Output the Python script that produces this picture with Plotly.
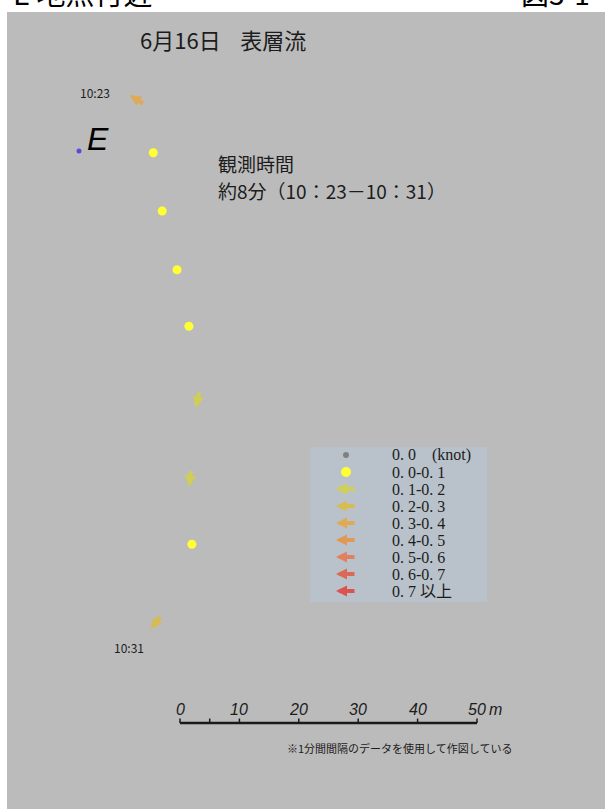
import math
import plotly.graph_objects as go

# ---- Drifter track, one fix per minute (metres east / north of scale-bar origin)
obs_time = ["10:23", "10:24", "10:25", "10:26", "10:27", "10:28", "10:29", "10:30", "10:31"]
east_m = [-7.2, -4.5, -3.0, -0.5, 1.5, 3.0, 1.7, 2.0, -4.0]
north_m = [104.9, 96.0, 86.2, 76.3, 66.8, 54.5, 41.2, 30.1, 17.0]
speed_class = [4, 1, 1, 1, 1, 2, 2, 1, 3]          # index into speed_labels
flow_dir_deg = [148, 0, 0, 0, 0, 256, 264, 0, 231]  # flow direction, degrees CCW from east

# Observation station
station_name = "E"
station_east = -17.0
station_north = 96.3

# Speed classes (knot) and their colours
speed_labels = ["0. 0\u00a0\u00a0\u00a0\u00a0(knot)", "0. 0-0. 1", "0. 1-0. 2", "0. 2-0. 3",
                "0. 3-0. 4", "0. 4-0. 5", "0. 5-0. 6", "0. 6-0. 7", "0. 7 以上"]
speed_colors = ["#808080", "#ffff33", "#d6d43c", "#dcbc3c", "#e6a63e",
                "#e8923e", "#e8764e", "#e25a42", "#e0403a"]

# Scale bar (metres)
scale_labels_m = [0, 10, 20, 30, 40, 50]
scale_ticks_m = [0, 5, 10, 20, 30, 40, 50]

title_text = "6月16日\u00a0\u00a0\u00a0\u00a0表層流"
obs_note = ["観測時間", "約8分（10：23－10：31）"]
footnote = "※1分間間隔のデータを使用して作図している"
page_heading = ["E 地点付近", "図3-1"]

# ---- page geometry
W, H = 605, 809
ML, MT = 7, 12
PX_PER_M = 5.94
ORIGIN_PX = (180, 723)           # where (0 m, 0 m) sits on the page
plot_w, plot_h = W - ML, H - MT
x_range = [(ML - ORIGIN_PX[0]) / PX_PER_M, (W - ORIGIN_PX[0]) / PX_PER_M]
y_range = [-(H - ORIGIN_PX[1]) / PX_PER_M, (ORIGIN_PX[1] - MT) / PX_PER_M]


def px(xp):
    return (xp - ML) / plot_w


def py(yp):
    return (H - yp) / plot_h


BG = "#bbbbbb"
TXT = "#1c1c1c"
SANS = "Noto Sans CJK JP, Liberation Sans, sans-serif"
LATIN = "Liberation Sans, Arial, sans-serif"
SERIF = "Liberation Serif, DejaVu Serif, Noto Sans CJK JP, serif"

fig = go.Figure()
annotations = []
shapes = []


def label(xp, yp, text, size, family=SANS, color=TXT, xanchor="center", yanchor="middle"):
    annotations.append(dict(x=px(xp), y=py(yp), xref="paper", yref="paper", text=text,
                            showarrow=False, xanchor=xanchor, yanchor=yanchor, borderpad=0,
                            font=dict(family=family, size=size, color=color)))


# ---- track: calm / weak fixes as dots, others as arrows
dot_idx = [i for i, c in enumerate(speed_class) if c <= 1]
fig.add_trace(go.Scatter(
    x=[east_m[i] for i in dot_idx], y=[north_m[i] for i in dot_idx],
    mode="markers", hoverinfo="skip", showlegend=False,
    marker=dict(size=9, color=[speed_colors[speed_class[i]] for i in dot_idx],
                line=dict(width=0)),
))

ARROW_LEN_M = 2.9
for i, c in enumerate(speed_class):
    if c <= 1:
        continue
    a = math.radians(flow_dir_deg[i])
    dx, dy = math.cos(a) * ARROW_LEN_M / 2, math.sin(a) * ARROW_LEN_M / 2
    annotations.append(dict(
        x=east_m[i] + dx, y=north_m[i] + dy, ax=east_m[i] - dx, ay=north_m[i] - dy,
        xref="x", yref="y", axref="x", ayref="y", text="", showarrow=True,
        arrowhead=2, arrowsize=0.55, arrowwidth=4, arrowcolor=speed_colors[c], opacity=0.8,
    ))

# time labels at both ends of the track
label(95, 92, obs_time[0], 12)
label(129, 647, obs_time[-1], 12)

# station
fig.add_trace(go.Scatter(
    x=[station_east], y=[station_north], mode="markers", hoverinfo="skip", showlegend=False,
    marker=dict(size=5, color="#5a4ad6", line=dict(width=0)),
))
label(98, 139, "<i>" + station_name + "</i>", 32, family=LATIN, color="#000000")

# ---- scale bar
fig.add_trace(go.Scatter(
    x=[scale_ticks_m[0], scale_ticks_m[-1]], y=[0, 0], mode="lines", hoverinfo="skip",
    showlegend=False, line=dict(color="#1a1a1a", width=2.5),
))
for t in scale_ticks_m:
    shapes.append(dict(type="line", xref="x", yref="y", x0=t, x1=t, y0=0, y1=0.75,
                       line=dict(color="#1a1a1a", width=1.5)))
for t in scale_labels_m:
    annotations.append(dict(x=t, y=2.3, xref="x", yref="y", text="<i>%d</i>" % t,
                            showarrow=False, xanchor="center", yanchor="middle",
                            font=dict(family=LATIN, size=16, color=TXT)))
annotations.append(dict(x=scale_labels_m[-1] + 1.6, y=2.3, xref="x", yref="y", text="<i>m</i>",
                        showarrow=False, xanchor="left", yanchor="middle",
                        font=dict(family=LATIN, size=16, color=TXT)))
label(286, 748, footnote, 11, xanchor="left")

# ---- titles
label(139, 39, title_text, 22, xanchor="left")
label(217, 164, obs_note[0], 19, xanchor="left")
label(217, 190, obs_note[1], 19, xanchor="left")

# page heading, cut by the top edge
label(12, 14, page_heading[0], 29, color="#000000", xanchor="left", yanchor="bottom")
label(520, 14, page_heading[1], 28, color="#000000", xanchor="left", yanchor="bottom")

# ---- speed legend
shapes.append(dict(type="rect", xref="paper", yref="paper", x0=px(310), x1=px(487),
                   y0=py(602), y1=py(447), fillcolor="#b9c2ca", line=dict(width=0), layer="below"))
row_y = [455 + 17 * k for k in range(len(speed_labels))]
sym_x = 346
for k, (lab, col) in enumerate(zip(speed_labels, speed_colors)):
    yk = row_y[k]
    if k <= 1:
        fig.add_trace(go.Scatter(x=[px(sym_x)], y=[py(yk)], xaxis="x2", yaxis="y2",
                                 mode="markers", hoverinfo="skip", showlegend=False,
                                 marker=dict(size=6 if k == 0 else 10, color=col,
                                             line=dict(width=0))))
    else:
        annotations.append(dict(x=px(336), y=py(yk), ax=20, ay=0, xref="paper", yref="paper",
                                text="", showarrow=True, arrowhead=2, arrowsize=0.55,
                                arrowwidth=4, arrowcolor=col, opacity=0.85))
    label(391, yk, lab, 16, family=SERIF, xanchor="left")

fig.update_layout(
    width=W, height=H,
    margin=dict(l=ML, r=0, t=MT, b=0, pad=0),
    paper_bgcolor="#ffffff", plot_bgcolor=BG,
    xaxis=dict(range=x_range, visible=False, fixedrange=True),
    yaxis=dict(range=y_range, visible=False, fixedrange=True),
    xaxis2=dict(range=[0, 1], visible=False, overlaying="x", fixedrange=True),
    yaxis2=dict(range=[0, 1], visible=False, overlaying="y", fixedrange=True),
    annotations=annotations, shapes=shapes,
    showlegend=False,
)

fig.write_html("out.html")
